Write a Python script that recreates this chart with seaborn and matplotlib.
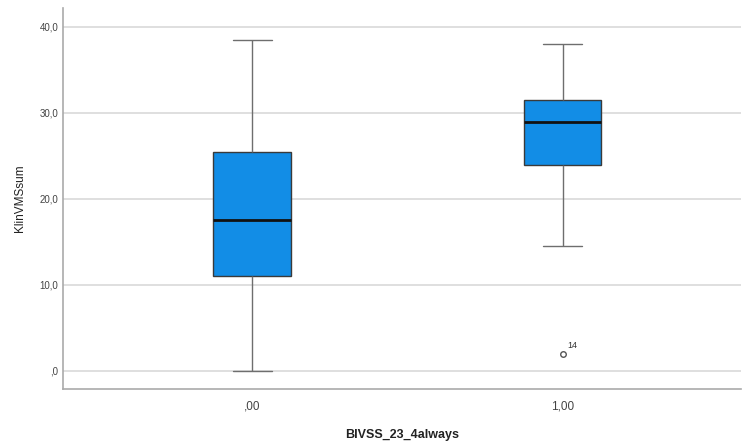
import matplotlib
matplotlib.use("Agg")
import matplotlib.pyplot as plt
import seaborn as sns
import pandas as pd

# Group labels and five-number summaries
groups = [",00", "1,00"]
whisker_low = [0.0, 14.5]
q1 = [11.0, 24.0]
median = [17.5, 29.0]
q3 = [25.5, 31.5]
whisker_high = [38.5, 38.0]
outliers = [[], [2.0]]
outlier_labels = [[], ["14"]]

y_ticks = [0, 10, 20, 30, 40]
y_tick_labels = [",0", "10,0", "20,0", "30,0", "40,0"]

# Build samples whose quartiles/whiskers reproduce the summaries
rows = []
for g, lo, a, m, b, hi, outs in zip(groups, whisker_low, q1, median, q3, whisker_high, outliers):
    if outs:
        vals = list(outs) + [lo, a, a, m, b, b, hi, hi]
    else:
        vals = [lo, a, m, b, hi]
    rows += [(g, v) for v in vals]
df = pd.DataFrame(rows, columns=["group", "value"])

sns.set_style("white")
plt.rcParams["font.family"] = ["Liberation Sans", "DejaVu Sans"]
fig = plt.figure(figsize=(7.43, 4.41), dpi=100)
ax = fig.add_axes([63 / 743, 1 - 389 / 441, (741 - 63) / 743, (389 - 8) / 441])

for t in y_ticks:
    ax.axhline(t, color="#d9d9d9", lw=1.2, zorder=0)

sns.boxplot(data=df, x="group", y="value", order=groups, ax=ax, width=0.25,
            color="#128de6", saturation=1, whis=1.5,
            boxprops=dict(edgecolor="#3a3a3a", linewidth=1.0, zorder=2),
            medianprops=dict(color="#111111", linewidth=2.0),
            whiskerprops=dict(color="#6e6e6e", linewidth=1.0),
            capprops=dict(color="#6e6e6e", linewidth=1.0),
            capwidths=0.125,
            flierprops=dict(marker="o", markersize=4, markerfacecolor="white",
                            markeredgecolor="#555555", markeredgewidth=1.0))

for i, (outs, labs) in enumerate(zip(outliers, outlier_labels)):
    for v, lab in zip(outs, labs):
        ax.text(i + 0.015, v + 0.4, lab, fontsize=6.5, color="#333333", ha="left", va="bottom")

ax.set_xlim(-0.61, 1.575)
ax.set_ylim(-2.1, 42.2)
ax.set_yticks(y_ticks)
ax.set_yticklabels(y_tick_labels)
ax.tick_params(axis="both", length=0, labelsize=7, colors="#444444")
ax.tick_params(axis="x", pad=8, labelsize=8.5)
ax.set_xlabel("BIVSS_23_4always", fontsize=9, fontweight="bold", color="#222222", labelpad=12)
ax.set_ylabel("KlinVMSsum", fontsize=8.5, color="#222222", labelpad=10)

for s in ["top", "right"]:
    ax.spines[s].set_visible(False)
for s in ["left", "bottom"]:
    ax.spines[s].set_color("#aaaaaa")
    ax.spines[s].set_linewidth(1.2)

fig.savefig("out.png", dpi=100)
